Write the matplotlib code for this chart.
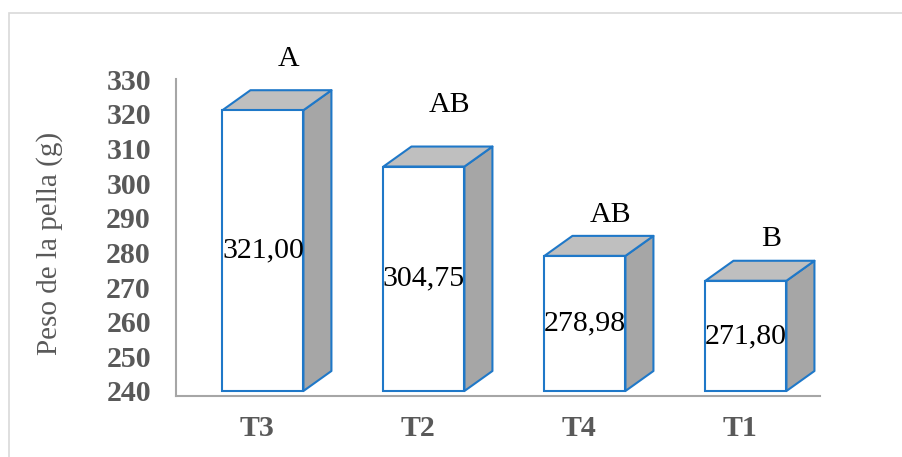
import matplotlib.pyplot as plt
from matplotlib.patches import Polygon, Rectangle

# data
tratamientos = ["T3", "T2", "T4", "T1"]
peso = [321.00, 304.75, 278.98, 271.80]
etiquetas = ["321,00", "304,75", "278,98", "271,80"]
letras = ["A", "AB", "AB", "B"]

plt.rcParams['font.family'] = ['Liberation Serif', 'DejaVu Serif']

fig = plt.figure(figsize=(9.02, 4.57), dpi=100)
ax = fig.add_axes([0.1951, 0.1335, 0.714, 0.6936])

base = 240
ymin, ymax = 238.56, 330
px_per_unit = 317 / (ymax - ymin)
# 3d depth offsets (data units)
dx = 28 / 161
dy = 20 / px_per_unit
w = 0.503
shift = 0.04
letter_off = [10, 20, 0, 0]  # extra lift (px) for each letter

edge = '#1F78C8'
for i, v in enumerate(peso):
    xl = i + shift - w / 2
    xr = i + shift + w / 2
    side = Polygon([(xr, base), (xr + dx, base + dy), (xr + dx, v + dy), (xr, v)],
                   closed=True, facecolor='#A6A6A6', edgecolor=edge, lw=1.5, joinstyle='round')
    top = Polygon([(xl, v), (xl + dx, v + dy), (xr + dx, v + dy), (xr, v)],
                  closed=True, facecolor='#BFBFBF', edgecolor=edge, lw=1.5, joinstyle='round')
    front = Rectangle((xl, base), w, v - base, facecolor='white', edgecolor=edge, lw=1.5)
    for p in (side, top, front):
        ax.add_patch(p)
    ax.text(i + shift, (base + v) / 2, etiquetas[i], ha='center', va='center',
            fontsize=21.5, color='black')
    ax.annotate(letras[i], (i + shift + dx * 0.9, v + dy), xytext=(0, 6 + letter_off[i] * 0.72),
                textcoords='offset points', ha='center', va='bottom',
                fontsize=21.5, color='black', annotation_clip=False)

ax.set_xlim(-0.5, 3.5)
ax.set_ylim(ymin, ymax)
ax.set_yticks(range(240, 331, 10))
ax.set_xticks(range(len(tratamientos)))
ax.set_xticklabels(tratamientos)

for s in ['top', 'right']:
    ax.spines[s].set_visible(False)
for s in ['left', 'bottom']:
    ax.spines[s].set_color('#A6A6A6')
    ax.spines[s].set_linewidth(1.5)

ax.tick_params(axis='y', length=0, pad=18, labelsize=21.5, labelcolor='#595959')
ax.tick_params(axis='x', length=0, pad=14, labelsize=21.5, labelcolor='#595959')
for lab in ax.get_xticklabels() + ax.get_yticklabels():
    lab.set_fontweight('bold')

ax.set_ylabel("Peso de la pella (g)", fontsize=21, color='#595959')
ax.yaxis.set_label_coords(-0.175, 0.48)

# outer chart border
fig.patches.append(Rectangle((9 / 902, -0.05), 1.2, 1.05 - 13 / 457,
                             transform=fig.transFigure, fill=False,
                             edgecolor='#D9D9D9', lw=1.2))

fig.savefig("out.png", dpi=100)
